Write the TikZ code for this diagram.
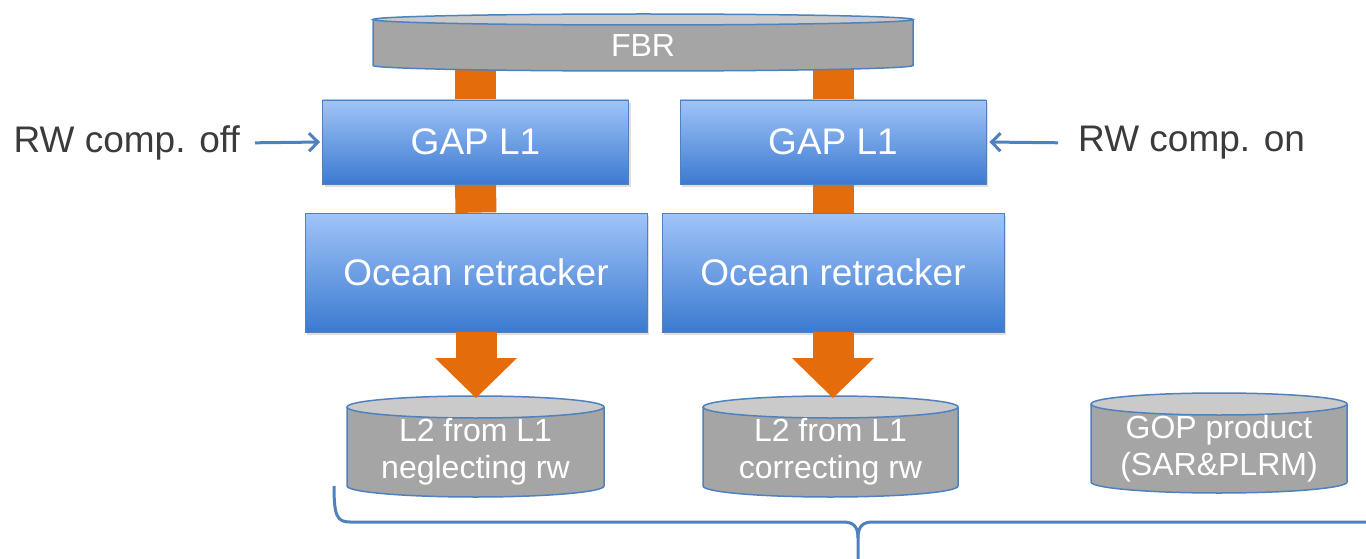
\documentclass[tikz,border=0pt]{standalone}
\usepackage{fontspec}
\setmainfont{Liberation Sans}
\usetikzlibrary{arrows.meta,backgrounds,shadows}

\definecolor{boxtop}{HTML}{A0C4F8}
\definecolor{boxbot}{HTML}{3C7AD0}
\definecolor{boxline}{HTML}{4F81BD}
\definecolor{barorange}{HTML}{E46C0A}
\definecolor{diskgray}{HTML}{A5A5A5}
\definecolor{disktop}{HTML}{CACACA}
\definecolor{labelgray}{HTML}{3B3B3B}

% drum behind a node: node, x radius, y radius
\newcommand{\drum}[3]{%
  \fill[diskgray] ([yshift=#3]#1.north west) -- (#1.south west)
    arc[start angle=180, end angle=360, x radius=#2, y radius=#3] -- ([yshift=#3]#1.north east) -- cycle;
  \draw[drumline] ([yshift=#3]#1.north west) -- (#1.south west)
    arc[start angle=180, end angle=360, x radius=#2, y radius=#3] -- ([yshift=#3]#1.north east);
  \filldraw[drumline, fill=disktop] ([yshift=#3]#1.north) ellipse[x radius=#2, y radius=#3];
}

\tikzset{
  stage/.style={draw=boxline, line width=0.8pt, top color=boxtop, bottom color=boxbot,
    text=white, inner sep=0pt, font=\fontsize{37}{42}\selectfont,
    drop shadow={opacity=0.25, shadow xshift=2pt, shadow yshift=-3pt}},
  disk/.style={rectangle, text=white, align=center, inner sep=0pt, outer sep=0pt,
    font=\fontsize{32}{37}\selectfont},
  drumline/.style={boxline, line width=1.5pt},
  feed/.style={barorange, line width=41pt},
  push/.style={barorange, line width=41pt, -{Triangle[width=82pt,length=40pt,line width=0pt]}},
  rwlabel/.style={text=labelgray, inner sep=0pt, font=\fontsize{37}{42}\selectfont},
  rwarrow/.style={boxline, line width=3pt, -{Straight Barb[length=9pt,width=18pt]}},
  brace/.style={boxline, line width=3pt},
}

\begin{document}
\begin{tikzpicture}[x=1pt, y=-1pt]
  \useasboundingbox (0,0) rectangle (1366,559);

  % source
  \node[disk, minimum width=540, minimum height=40.5] (fbr) at (643,45.25) {FBR};

  % two chains
  \node[stage, minimum width=306, minimum height=84] (gapL) at (475.5,142) {GAP L1};
  \node[stage, minimum width=306, minimum height=84] (gapR) at (833,142) {GAP L1};
  \node[stage, minimum width=342, minimum height=119] (oceanL) at (476,272.5) {Ocean retracker};
  \node[stage, minimum width=342, minimum height=119] (oceanR) at (833,272.5) {Ocean retracker};

  % products
  \node[disk, minimum width=257, minimum height=68] (l2L) at (475.5,452) {L2 from L1\\neglecting rw};
  \node[disk, minimum width=255, minimum height=68] (l2R) at (830.5,452) {L2 from L1\\correcting rw};
  \node[disk, minimum width=256, minimum height=67] (gop) at (1219,448.5) {GOP product\\(SAR\&PLRM)};

  % switches
  \node[rwlabel, anchor=east] (offlbl) at (240,143) {RW comp. off};
  \node[rwlabel, anchor=west] (onlbl) at (1078,143) {RW comp. on};
  \draw[rwarrow, shorten <=15pt, shorten >=2pt] (offlbl.east) -- (gapL.west);
  \draw[rwarrow, shorten <=20pt, shorten >=3pt] (onlbl.west) -- (gapR.east);

  % orange links and drums
  \begin{scope}[on background layer]
    \draw[feed] (gapL.north |- fbr.center) -- (gapL.north);
    \draw[feed] (gapR.north |- fbr.center) -- (gapR.north);
    \draw[feed] (gapL.south) -- (oceanL.north);
    \draw[feed] (gapR.south) -- (oceanR.north);
    \drum{fbr}{270pt}{5.5pt}
    \drum{l2L}{128.5pt}{11pt}
    \drum{l2R}{127.5pt}{11pt}
    \drum{gop}{128pt}{11pt}
  \end{scope}
  \draw[push] (oceanL.south) -- ([yshift=20pt]oceanL.south |- l2L.north);
  \draw[push] (oceanR.south) -- ([yshift=20pt]oceanR.south |- l2R.north);

  % brace
  \draw[brace] (334,486) .. controls (334,516) and (337,522) .. (350,522) -- (843,522)
    .. controls (853,522) and (858,526) .. (858,538) -- (858,559);
  \draw[brace] (858,538) .. controls (858,526) and (863,522) .. (873,522) -- (1370,522);
\end{tikzpicture}
\end{document}
